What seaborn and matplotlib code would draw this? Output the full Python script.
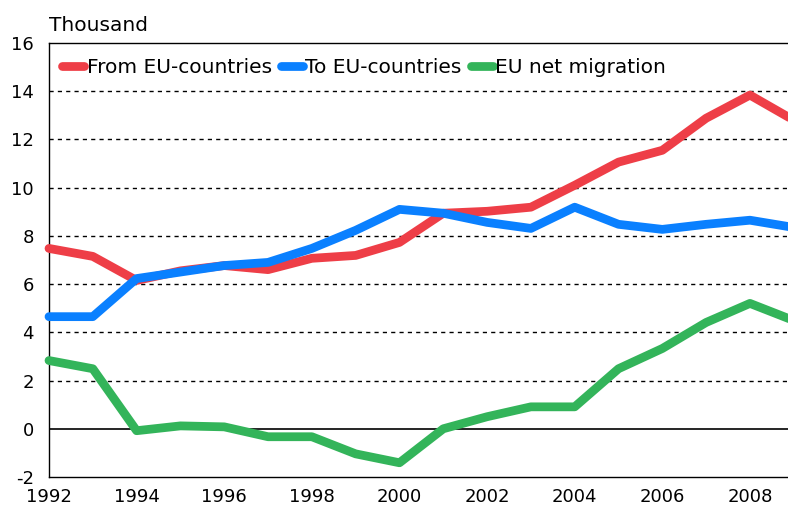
import pandas as pd
import matplotlib.pyplot as plt
import seaborn as sns

# values (thousand persons)
years = list(range(1992, 2010))
from_eu = [7.48, 7.15, 6.15, 6.55, 6.77, 6.6, 7.07, 7.19, 7.73, 8.94,
           9.02, 9.19, 10.1, 11.06, 11.55, 12.88, 13.84, 12.8]
to_eu = [4.65, 4.65, 6.23, 6.5, 6.77, 6.9, 7.48, 8.23, 9.1, 8.94,
         8.56, 8.31, 9.19, 8.48, 8.27, 8.48, 8.65, 8.35]
net_eu = [2.83, 2.49, -0.08, 0.12, 0.08, -0.33, -0.33, -1.04, -1.41, 0.0,
          0.5, 0.91, 0.91, 2.49, 3.33, 4.41, 5.2, 4.49]

series_names = ['From EU-countries', 'To EU-countries', 'EU net migration']
colors = ['#EE3E47', '#0A80FF', '#33B45A']

df = pd.DataFrame({'year': years * 3,
                   'value': from_eu + to_eu + net_eu,
                   'series': [s for s in series_names for _ in years]})

sns.set_style('white')
plt.rcParams['font.family'] = ['DejaVu Sans']
plt.rcParams['axes.unicode_minus'] = False
plt.rcParams['text.color'] = 'black'
plt.rcParams['xtick.color'] = 'black'
plt.rcParams['ytick.color'] = 'black'

fig = plt.figure(figsize=(7.88, 5.12), dpi=100)
ax = fig.add_axes([49 / 788, 35 / 512, 744.75 / 788, 434 / 512])

# dashed grid
for y in range(2, 16, 2):
    ax.axhline(y, color='black', lw=1, ls=(0, (3, 3)), zorder=1)
ax.axhline(0, color='black', lw=1.2, zorder=1)

sns.lineplot(data=df, x='year', y='value', hue='series', palette=colors,
             hue_order=series_names, lw=6.3, ax=ax, zorder=3,
             solid_capstyle='round', clip_on=False, legend=True)

ax.set_xlim(1992, 2009)
ax.set_ylim(-2, 16)
ax.set_xticks(range(1992, 2010, 2))
ax.set_yticks(range(-2, 17, 2))
ax.set_xlabel('')
ax.set_ylabel('')
ax.tick_params(axis='x', direction='in', length=8, width=1, labelsize=13, pad=8)
ax.tick_params(axis='y', length=0, labelsize=13, pad=11)
for s in ax.spines.values():
    s.set_color('black')
    s.set_linewidth(1)

ax.text(0.0, 1.018, 'Thousand', transform=ax.transAxes, fontsize=14.5,
        ha='left', va='bottom')

leg = ax.legend(loc='upper left', ncol=3, frameon=False, fontsize=14.5,
                handlelength=1.1, handletextpad=0.12, columnspacing=0.45,
                bbox_to_anchor=(0.0, 0.995), borderaxespad=0.25)
for h in leg.get_lines():
    h.set_linewidth(6.3)
    h.set_solid_capstyle('round')

fig.savefig('out.png', dpi=100)
